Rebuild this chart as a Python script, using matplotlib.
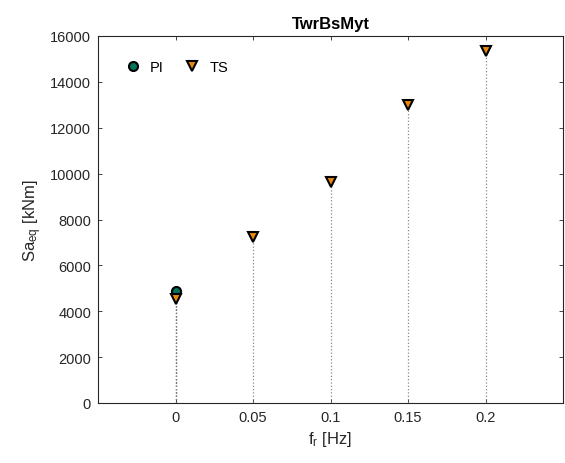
import matplotlib
matplotlib.use('Agg')
import matplotlib.pyplot as plt

plt.rcParams['font.family'] = ['Liberation Sans', 'DejaVu Sans']

# data
f_pi = [0.0]
sa_pi = [4900]
f_ts = [0.0, 0.05, 0.1, 0.15, 0.2]
sa_ts = [4550, 7250, 9650, 13000, 15350]

fig = plt.figure(figsize=(5.65, 4.64), dpi=100)
ax = fig.add_axes([98 / 565, 60 / 464, (563 - 98) / 565, (404 - 37) / 464])

# dotted stems
ax.vlines(f_pi, 0, sa_pi, colors='black', linestyles=':', linewidth=0.9)
ax.vlines(f_ts, 0, sa_ts, colors='#888888', linestyles=':', linewidth=0.9)

ax.plot(f_pi, sa_pi, 'o', ms=6.5, mfc='#00755a', mec='black', mew=1.5,
        linestyle='none', label='PI')
ax.plot(f_ts, sa_ts, 'v', ms=7.5, mfc='#e8890c', mec='black', mew=1.5,
        linestyle='none', label='TS')

ax.set_xlim(-0.05, 0.25)
ax.set_ylim(0, 16000)
ax.set_xticks([0, 0.05, 0.1, 0.15, 0.2])
ax.set_xticklabels(['0', '0.05', '0.1', '0.15', '0.2'])
ax.set_yticks(range(0, 16001, 2000))

ax.tick_params(direction='in', length=3, width=0.6, colors='#262626',
               labelsize=10.5, top=True, right=True, pad=5)
for s in ax.spines.values():
    s.set_color('#262626')
    s.set_linewidth(0.8)

ax.set_xlabel(r'f$\mathregular{_r}$ [Hz]', fontsize=12, color='#262626')
ax.set_ylabel(r'Sa$\mathregular{_{eq}}$ [kNm]', fontsize=12, color='#262626')
ax.set_title('TwrBsMyt', fontsize=12, fontweight='bold', pad=6)

ax.legend(loc='upper left', ncol=2, frameon=False, fontsize=10.5,
          handletextpad=0.4, columnspacing=1.1, handlelength=1.6,
          bbox_to_anchor=(0.021, 0.97))

fig.savefig('out.png', dpi=100)
